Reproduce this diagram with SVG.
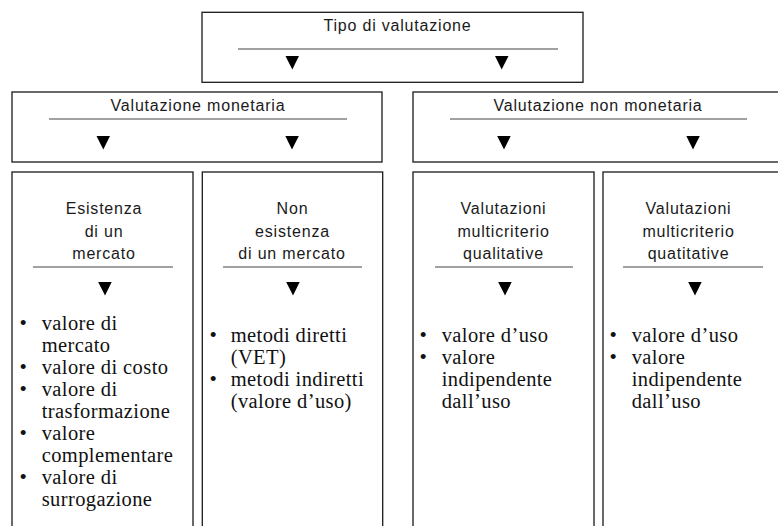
<svg xmlns="http://www.w3.org/2000/svg" width="778" height="526" viewBox="0 0 778 526">
<style>
.box{fill:#fff;stroke:#1a1a1a;stroke-width:1.3}
.ul{stroke:#444;stroke-width:1.2}
.hd{font-family:"Liberation Sans",Arial,sans-serif;font-size:16px;letter-spacing:0.8px;fill:#1a1a1a;text-anchor:middle}
.it{font-family:"Liberation Serif","Times New Roman",serif;font-size:20.5px;letter-spacing:0.4px;fill:#111}
.bu{font-family:"Liberation Serif","Times New Roman",serif;font-size:21px;fill:#111;text-anchor:middle}
.tri{fill:#000}
</style>
<rect width="778" height="526" fill="#fff"/>

<g id="tipo">
<rect class="box" x="202" y="12.3" width="381" height="70"/>
<text class="hd" x="397.5" y="30.5">Tipo di valutazione</text>
<line class="ul" x1="238" y1="49" x2="558" y2="49"/>
</g>

<g id="monetaria">
<rect class="box" x="12" y="92" width="370" height="70"/>
<text class="hd" x="198" y="110.5">Valutazione monetaria</text>
<line class="ul" x1="49" y1="119" x2="347" y2="119"/>
</g>

<g id="non-monetaria">
<rect class="box" x="413" y="92" width="400" height="70"/>
<text class="hd" x="598" y="110.5">Valutazione non monetaria</text>
<line class="ul" x1="450" y1="119" x2="747" y2="119"/>
</g>

<g id="esistenza">
<rect class="box" x="12" y="172" width="181" height="380"/>
<text class="hd" x="104" y="214">Esistenza</text>
<text class="hd" x="104" y="236.5">di un</text>
<text class="hd" x="104" y="259">mercato</text>
<line class="ul" x1="33" y1="267" x2="173" y2="267"/>
<text class="bu" x="23.3" y="330">•</text>
<text class="it" x="41.7" y="330">valore di</text>
<text class="it" x="41.7" y="352">mercato</text>
<text class="bu" x="23.3" y="374">•</text>
<text class="it" x="41.7" y="374">valore di costo</text>
<text class="bu" x="23.3" y="396">•</text>
<text class="it" x="41.7" y="396">valore di</text>
<text class="it" x="41.7" y="418">trasformazione</text>
<text class="bu" x="23.3" y="440">•</text>
<text class="it" x="41.7" y="440">valore</text>
<text class="it" x="41.7" y="462">complementare</text>
<text class="bu" x="23.3" y="484">•</text>
<text class="it" x="41.7" y="484">valore di</text>
<text class="it" x="41.7" y="506">surrogazione</text>
</g>

<g id="non-esistenza">
<rect class="box" x="202.3" y="172" width="180.4" height="380"/>
<text class="hd" x="292.5" y="214">Non</text>
<text class="hd" x="292.5" y="236.5">esistenza</text>
<text class="hd" x="292" y="259">di un mercato</text>
<line class="ul" x1="223" y1="267" x2="362" y2="267"/>
<text class="bu" x="213.3" y="342">•</text>
<text class="it" x="230.7" y="342">metodi diretti</text>
<text class="it" x="230.7" y="364">(VET)</text>
<text class="bu" x="213.3" y="386">•</text>
<text class="it" x="230.7" y="386">metodi indiretti</text>
<text class="it" x="230.7" y="408">(valore d’uso)</text>
</g>

<g id="qualitative">
<rect class="box" x="413" y="172" width="181" height="380"/>
<text class="hd" x="503.5" y="214">Valutazioni</text>
<text class="hd" x="503.5" y="236.5">multicriterio</text>
<text class="hd" x="503.5" y="259">qualitative</text>
<line class="ul" x1="435" y1="267" x2="573" y2="267"/>
<text class="bu" x="423.3" y="342">•</text>
<text class="it" x="441.7" y="342">valore d’uso</text>
<text class="bu" x="423.3" y="364">•</text>
<text class="it" x="441.7" y="364">valore</text>
<text class="it" x="441.7" y="386">indipendente</text>
<text class="it" x="441.7" y="408">dall’uso</text>
</g>

<g id="quatitative">
<rect class="box" x="603" y="172" width="200" height="380"/>
<text class="hd" x="688.5" y="214">Valutazioni</text>
<text class="hd" x="688.5" y="236.5">multicriterio</text>
<text class="hd" x="688.5" y="259">quatitative</text>
<line class="ul" x1="623" y1="267" x2="763" y2="267"/>
<text class="bu" x="613.3" y="342">•</text>
<text class="it" x="631.7" y="342">valore d’uso</text>
<text class="bu" x="613.3" y="364">•</text>
<text class="it" x="631.7" y="364">valore</text>
<text class="it" x="631.7" y="386">indipendente</text>
<text class="it" x="631.7" y="408">dall’uso</text>
</g>

<g id="connectors">
<polygon class="tri" points="285.5,56 299,56 292.3,69.5"/>
<polygon class="tri" points="495,56 508.5,56 501.7,69.5"/>
<polygon class="tri" points="96.5,136 110,136 103.3,149.5"/>
<polygon class="tri" points="285.3,136 298.8,136 292,149.5"/>
<polygon class="tri" points="497.2,136 510.7,136 504,149.5"/>
<polygon class="tri" points="686.3,136 699.8,136 693,149.5"/>
<polygon class="tri" points="98.2,282 111.7,282 105,295.5"/>
<polygon class="tri" points="286.2,282 299.7,282 293,295.5"/>
<polygon class="tri" points="498.2,282 511.7,282 505,295.5"/>
<polygon class="tri" points="688.2,282 701.7,282 695,295.5"/>
</g>
</svg>
